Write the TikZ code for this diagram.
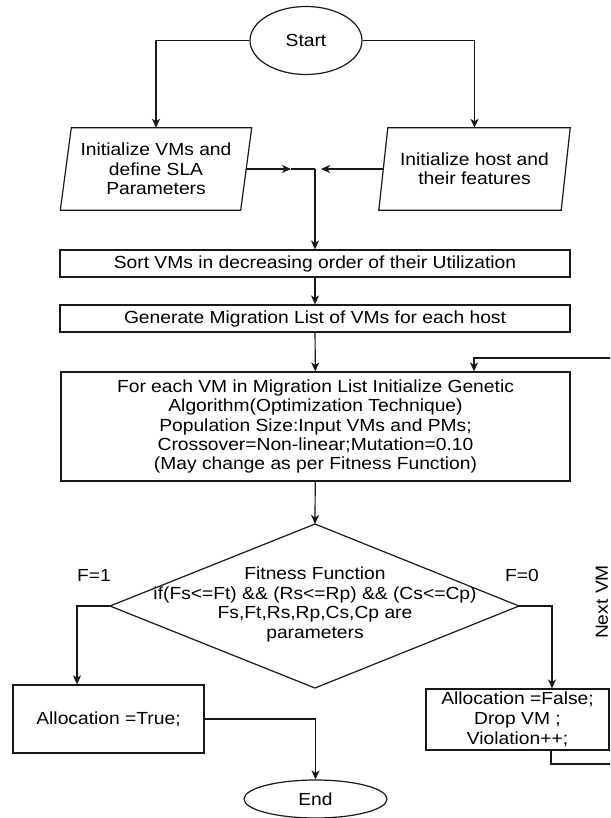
\documentclass[tikz,border=0pt]{standalone}
\usepackage{fontspec}
\setmainfont[FakeStretch=1.1]{Liberation Sans}
\usetikzlibrary{arrows.meta,calc,shapes.geometric}
\begin{document}
\begin{tikzpicture}[x=1pt,y=-1pt,
  every node/.style={font=\fontsize{17.5pt}{19.4pt}\selectfont, text=black, inner sep=0pt, align=center},
  ln/.style={line width=1.2pt, draw=black!90},
  box/.style={ln, draw, rectangle},
  arr/.style={ln, -{Stealth[length=9pt,width=8pt,inset=2.5pt]}},
  term/.style={ln, draw, ellipse}
]
\useasboundingbox (0,0) rectangle (610,818);
\clip (0,0) rectangle (610,818);

% nodes
\node[term, minimum width=112pt, minimum height=68pt] (start) at (306,40.5) {Start};
\node[minimum width=180pt, minimum height=82pt] (lp) at (156,169) {Initialize VMs and\\define SLA\\Parameters};
\node[minimum width=182pt, minimum height=82pt] (rp) at (474.5,169) {Initialize host and\\their features};
\node[box, minimum width=510pt, minimum height=27pt] (sort) at (315,263.5) {Sort VMs in decreasing order of their Utilization};
\node[box, minimum width=510pt, minimum height=27pt] (gen) at (315,318.5) {Generate Migration List of VMs for each host};
\node[box, minimum width=509pt, minimum height=109pt] (big) at (315.5,426.5) {For each VM in Migration List Initialize Genetic\\Algorithm(Optimization Technique)\\Population Size:Input VMs and PMs;\\Crossover=Non-linear;Mutation=0.10\\(May change as per Fitness Function)};
\node (dtext) at (315,604.5) {Fitness Function\\if(Fs<=Ft) \&\& (Rs<=Rp) \&\& (Cs<=Cp)\\Fs,Ft,Rs,Rp,Cs,Cp are\\parameters};
\node[box, minimum width=191pt, minimum height=68pt] (tbox) at (108.5,719) {Allocation =True;};
\node[box, minimum width=183pt, minimum height=61pt, font=\fontsize{17.5pt}{20pt}\selectfont] (fbox) at (517.5,719.5) {Allocation =False;\\Drop VM ;\\Violation++;};
\node[term, minimum width=143pt, minimum height=38pt] (end) at (315.5,799) {End};
\node (f1) at (94,575) {F=1};
\node (f0) at (522,575) {F=0};
\node[rotate=90] (next) at (602,602) {Next VM};

% parallelograms
\draw[ln] ([xshift=-5.5pt]lp.south west) -- ([xshift=5.5pt]lp.north west) -- ([xshift=5.5pt]lp.north east) -- ([xshift=-5.5pt]lp.south east) -- cycle;
\draw[ln] ([xshift=-4.5pt]rp.south west) -- ([xshift=4.5pt]rp.north west) -- ([xshift=4.5pt]rp.north east) -- ([xshift=-4.5pt]rp.south east) -- cycle;

% diamond
\coordinate (dtop) at (315,524);
\coordinate (dleft) at (110,606);
\coordinate (dright) at (519,606);
\coordinate (dbot) at (315,688);
\draw[ln] (dtop) -- (dright) -- (dbot) -- (dleft) -- cycle;

% merge points
\coordinate (m1) at (291,169);
\coordinate (m2) at (321,169);
\coordinate (merge) at (315,169);
\coordinate (lpr) at (614,764);
\coordinate (lpt) at (614,358);

% connectors
\draw[arr] (start.west) -| (lp.north);
\draw[arr] (start.east) -| (rp.north);
\draw[arr] (lp.east) -- (m1);
\draw[ln] (m1) -- (merge);
\draw[ln, -{Stealth[length=9pt,width=8pt,inset=2.5pt]}, line width=2pt] (rp.west) -- (m2);
\draw[arr] (merge) -- (sort.north);
\draw[arr] (sort) -- (gen);
\draw[arr] (gen) -- (big);
\draw[arr] (big) -- (dtop);
\draw[arr] (dleft) -| ([xshift=-31.5pt]tbox.north);
\draw[arr] (dright) -| ([xshift=34.5pt]fbox.north);
\draw[arr] (tbox.east) -| (end.north);
\draw[arr] ([xshift=33.5pt]fbox.south) |- (lpr) -- (lpt) -| ([xshift=158.5pt]big.north);
\end{tikzpicture}
\end{document}
